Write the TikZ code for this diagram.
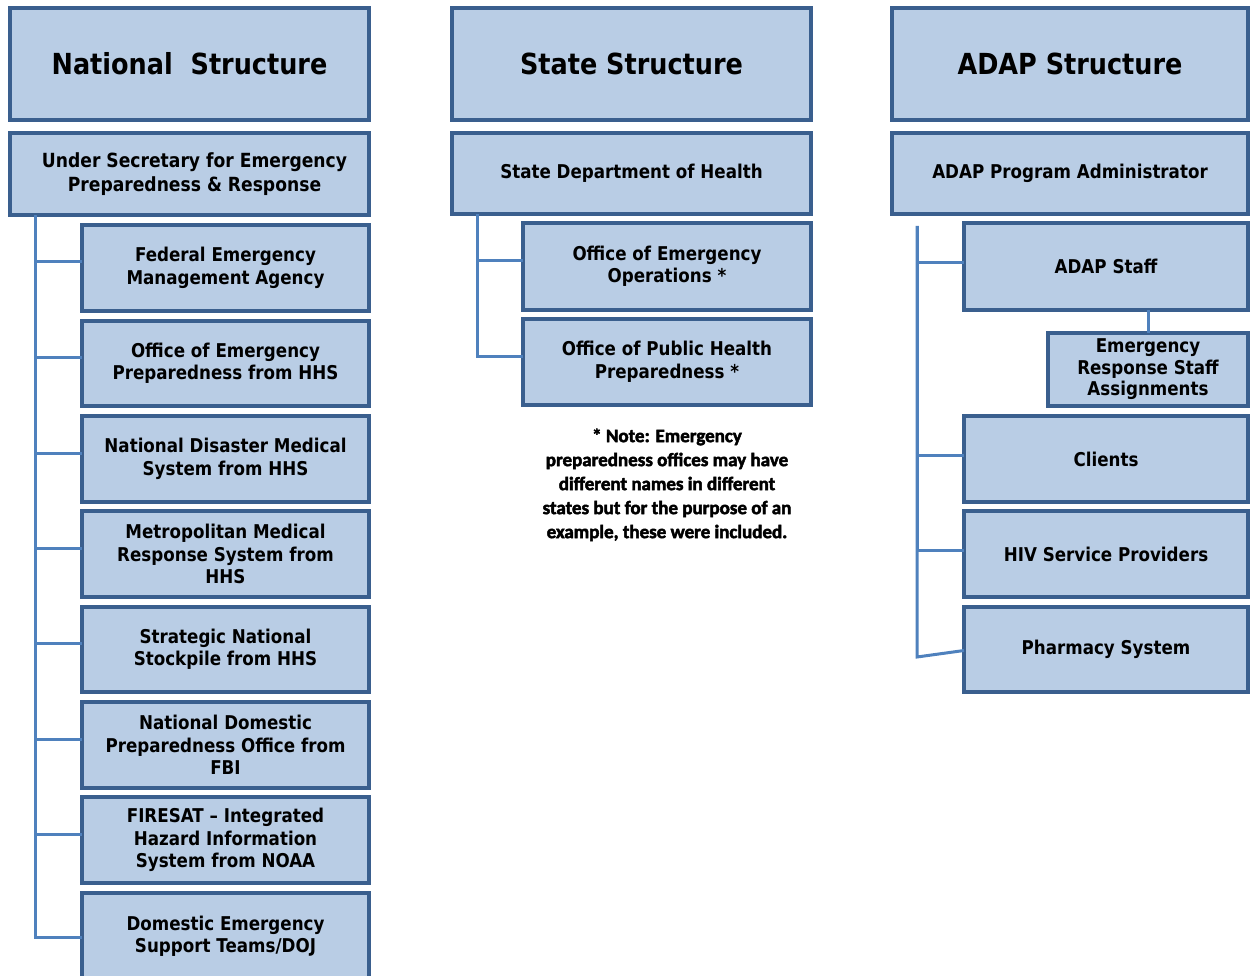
\documentclass[tikz,border=0pt]{standalone}
\usepackage{fontspec}
\setmainfont{DejaVu Sans}[FakeStretch=0.88]
\newfontfamily\notefont{Carlito}[UprightFont={* Bold}, FakeBold=2.5]
\definecolor{fillc}{HTML}{B9CDE5}
\definecolor{bordc}{HTML}{3A5F8E}
\definecolor{linec}{HTML}{4F81BD}
\begin{document}
\begin{tikzpicture}[x=1pt,y=-1pt,
  box/.style={draw=bordc, fill=fillc, line width=3.5pt, inner sep=0pt, outer sep=0pt,
    align=center, anchor=north west, font=\bfseries\fontsize{19}{22.5}\selectfont},
  titlebox/.style={box, font=\bfseries\fontsize{29}{34}\selectfont},
  conn/.style={draw=linec, line width=3pt}]
\useasboundingbox (0,0) rectangle (1250,976);
\clip (0,0) rectangle (1250,976);
% National
\node[titlebox, minimum width=359pt, minimum height=112pt] (nt) at (10,8) {National\ \ Structure};
\node[box, minimum width=359pt, minimum height=82pt, font=\bfseries\fontsize{19.5}{24}\selectfont] (us) at (10,133) {\hspace*{10pt}Under Secretary for Emergency\\\hspace*{10pt}Preparedness \& Response};
\node[box, minimum width=287pt, minimum height=86pt] (n1) at (82,225) {Federal Emergency\\Management Agency};
\node[box, minimum width=287pt, minimum height=85pt] (n2) at (82,321) {Office of Emergency\\Preparedness from HHS};
\node[box, minimum width=287pt, minimum height=86pt] (n3) at (82,416) {National Disaster Medical\\System from HHS};
\node[box, minimum width=287pt, minimum height=86pt] (n4) at (82,511) {Metropolitan Medical\\Response System from\\HHS};
\node[box, minimum width=287pt, minimum height=85pt] (n5) at (82,607) {Strategic National\\Stockpile from HHS};
\node[box, minimum width=287pt, minimum height=86pt] (n6) at (82,702) {National Domestic\\Preparedness Office from\\FBI};
\node[box, minimum width=287pt, minimum height=86pt] (n7) at (82,797) {FIRESAT -- Integrated\\Hazard Information\\System from NOAA};
\node[box, minimum width=287pt, minimum height=100pt] (n8) at (82,893) {\\[-22pt]Domestic Emergency\\Support Teams/DOJ};
\coordinate (ntr) at (35,215);
\foreach \n in {n1,n2,n3,n4,n5,n6,n7,n8}{
  \draw[conn] (ntr) |- ([yshift=6pt]\n.west);
}
% State
\node[titlebox, minimum width=359pt, minimum height=112pt] (st) at (452,8) {State Structure};
\node[box, minimum width=359pt, minimum height=81pt] (sd) at (452,133) {State Department of Health};
\node[box, minimum width=288pt, minimum height=87pt] (s1) at (523,223) {Office of Emergency\\Operations *};
\node[box, minimum width=288pt, minimum height=86pt] (s2) at (523,319) {Office of Public Health\\Preparedness *};
\coordinate (str) at (477,214);
\foreach \n in {s1,s2}{
  \draw[conn] (str) |- ([yshift=6pt]\n.west);
}
\node[align=center, font=\notefont\fontsize{19}{24}\selectfont, anchor=north] (note) at (667,425)
  {* Note: Emergency\\preparedness offices may have\\different names in different\\states but for the purpose of an\\example, these were included.};
% ADAP
\node[titlebox, minimum width=356pt, minimum height=112pt] (at) at (892,8) {ADAP Structure};
\node[box, minimum width=356pt, minimum height=81pt] (pa) at (892,133) {ADAP Program Administrator};
\node[box, minimum width=284pt, minimum height=87pt] (a1) at (964,223) {ADAP Staff};
\node[box, minimum width=200pt, minimum height=73pt, font=\bfseries\fontsize{19}{21.5}\selectfont] (ers) at (1048,333) {Emergency\\Response Staff\\Assignments};
\node[box, minimum width=284pt, minimum height=86pt] (a2) at (964,416) {Clients};
\node[box, minimum width=284pt, minimum height=86pt] (a3) at (964,511) {HIV Service Providers};
\node[box, minimum width=284pt, minimum height=85pt] (a4) at (964,607) {Pharmacy System};
\coordinate (atr) at (917,226);
\coordinate (abot) at (917,657);
\foreach \n in {a1,a2,a3}{
  \draw[conn] (atr) |- ([yshift=4pt]\n.west);
}
\draw[conn] (atr) -- (abot) -- ([yshift=-1pt]a4.west);
\draw[conn] (a1.south -| ers.north) -- (ers.north);
\end{tikzpicture}
\end{document}
